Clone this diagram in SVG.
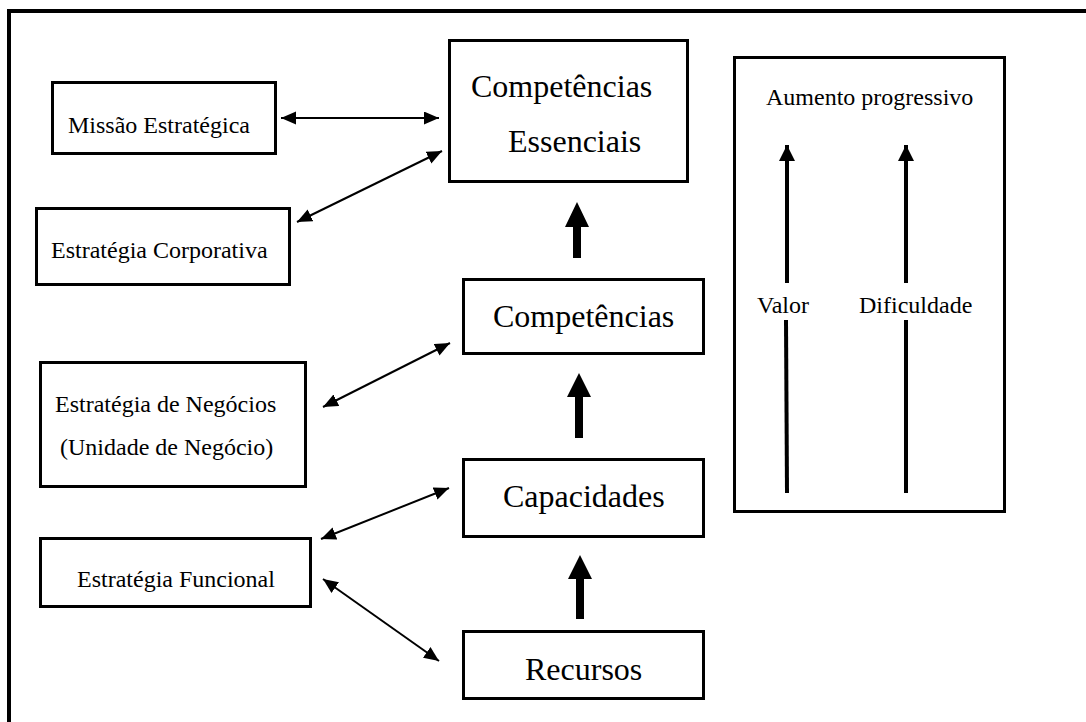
<svg xmlns="http://www.w3.org/2000/svg" width="1086" height="722" viewBox="0 0 1086 722">
  <style>
    .box { fill: #fff; stroke: #000; stroke-width: 3; }
    text { font-family: "Liberation Serif", "DejaVu Serif", serif; fill: #000; }
    .t24 { font-size: 24px; }
    .t32 { font-size: 32px; }
    .link { fill: none; stroke: #000; stroke-width: 2; marker-start: url(#head); marker-end: url(#head); }
    .thick { fill: #000; stroke: none; }
    .scale { fill: none; stroke: #000; stroke-width: 4; }
  </style>
  <defs>
    <marker id="head" markerUnits="userSpaceOnUse" markerWidth="16" markerHeight="14" refX="15" refY="6.5" orient="auto-start-reverse">
      <path d="M0,0 L15,6.5 L0,13 Z" fill="#000"/>
    </marker>
    <marker id="up" markerUnits="userSpaceOnUse" markerWidth="17" markerHeight="17" refX="16" refY="8" orient="auto">
      <path d="M0,0 L16,8 L0,16 Z" fill="#000"/>
    </marker>
  </defs>

  <rect width="1086" height="722" fill="#fff"/>

  <!-- outer frame (top and left edges) -->
  <path d="M9,722 V11 H1086" fill="none" stroke="#000" stroke-width="4"/>

  <g id="missao">
    <rect class="box" x="52.5" y="82.5" width="223" height="71"/>
    <text class="t24" x="68" y="133">Missão Estratégica</text>
  </g>

  <g id="corporativa">
    <rect class="box" x="36.5" y="208.5" width="253" height="76"/>
    <text class="t24" x="51" y="258">Estratégia Corporativa</text>
  </g>

  <g id="negocios">
    <rect class="box" x="40.5" y="362.5" width="265" height="124"/>
    <text class="t24" x="55" y="412">Estratégia de Negócios</text>
    <text class="t24" x="60" y="455">(Unidade de Negócio)</text>
  </g>

  <g id="funcional">
    <rect class="box" x="40.5" y="538.5" width="270" height="68"/>
    <text class="t24" x="77" y="587">Estratégia Funcional</text>
  </g>

  <g id="essenciais">
    <rect class="box" x="449.5" y="40.5" width="238" height="141"/>
    <text class="t32" x="471" y="97">Competências</text>
    <text class="t32" x="508" y="152">Essenciais</text>
  </g>

  <g id="competencias">
    <rect class="box" x="463.5" y="279.5" width="240" height="74"/>
    <text class="t32" x="493" y="327">Competências</text>
  </g>

  <g id="capacidades">
    <rect class="box" x="463.5" y="459.5" width="240" height="77"/>
    <text class="t32" x="503" y="507">Capacidades</text>
  </g>

  <g id="recursos">
    <rect class="box" x="463.5" y="631.5" width="240" height="67"/>
    <text class="t32" x="525" y="680">Recursos</text>
  </g>

  <g id="escala">
    <rect class="box" x="734.5" y="57.5" width="270" height="454"/>
    <text class="t24" x="766" y="105">Aumento progressivo</text>
    <text class="t24" x="757" y="313">Valor</text>
    <text class="t24" x="859" y="313">Dificuldade</text>
    <path class="scale" d="M787,283 V145" marker-end="url(#up)"/>
    <path class="scale" d="M786,320 L787,493"/>
    <path class="scale" d="M906,283 V145" marker-end="url(#up)"/>
    <path class="scale" d="M906,320 V493"/>
  </g>

  <g id="connectors">
    <path class="link" d="M281,118 L439,118"/>
    <path class="link" d="M297,222 L442,151"/>
    <path class="link" d="M323,407 L450,343"/>
    <path class="link" d="M321,539 L449,488"/>
    <path class="link" d="M323,579 L439,661"/>
    <!-- bold upward arrows between the stacked levels -->
    <path class="thick" d="M577,202 L589,227 L581,227 L581,258 L573,258 L573,227 L565,227 Z"/>
    <path class="thick" d="M579,373 L591,397 L583,397 L583,438 L575,438 L575,397 L567,397 Z"/>
    <path class="thick" d="M580,555 L592,579 L584,579 L584,619 L576,619 L576,579 L568,579 Z"/>
  </g>
</svg>
